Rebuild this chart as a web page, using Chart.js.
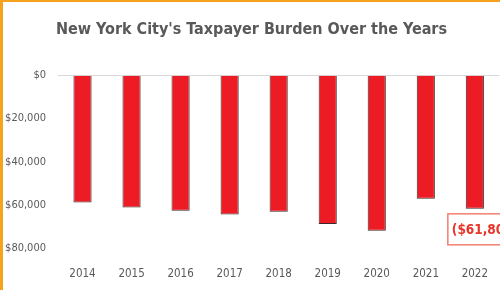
<!DOCTYPE html>
<html>
<head>
<meta charset="utf-8">
<script src="https://cdn.jsdelivr.net/npm/chart.js@4"></script>
<style>
  html, body { margin: 0; padding: 0; background: #fff; }
  #wrap {
    width: 497px;
    height: 288px;
    border-left: 3px solid #f5a21c;
    border-top: 2px solid #f5a21c;
  }
  canvas { display: block; }
</style>
</head>
<body>
<div id="wrap"><canvas id="burden" width="497" height="288"></canvas></div>
<script>
// data
const years = ['2014', '2015', '2016', '2017', '2018', '2019', '2020', '2021', '2022'];
const burden = [-58900, -61200, -62700, -64400, -63200, -68800, -71900, -57100, -61800];
const yTicks = [0, -20000, -40000, -60000, -80000];

const FONT = '"DejaVu Sans Condensed", "Liberation Sans Narrow", sans-serif';
const GREY = '#595959';

const fmtMoney = (v) => '$' + Math.abs(v).toLocaleString('en-US');

// callout for the last bar
const lastLabel = {
  id: 'lastLabel',
  afterDatasetsDraw(chart) {
    const meta = chart.getDatasetMeta(0);
    const i = burden.length - 1;
    const bar = meta.data[i];
    const ctx = chart.ctx;
    const text = '(' + fmtMoney(burden[i]) + ')';
    ctx.save();
    ctx.font = 'bold 13.5px ' + FONT;
    const w = ctx.measureText(text).width + 8;
    const h = 31;
    const x = bar.x - 27;
    const y = bar.y + 5;
    ctx.fillStyle = '#fff';
    ctx.fillRect(x, y, w, h);
    ctx.strokeStyle = '#f08070';
    ctx.lineWidth = 1.5;
    ctx.strokeRect(x, y, w, h);
    ctx.fillStyle = '#e8352a';
    ctx.textAlign = 'left';
    ctx.textBaseline = 'middle';
    ctx.fillText(text, x + 4, y + h / 2 + 1);
    ctx.restore();
  }
};

new Chart(document.getElementById('burden'), {
  type: 'bar',
  data: {
    labels: years,
    datasets: [{
      data: burden,
      backgroundColor: '#ed1c24',
      borderColor: '#3a2a2a',
      borderWidth: 1,
      barPercentage: 0.37,
      categoryPercentage: 1
    }]
  },
  options: {
    responsive: false,
    animation: false,
    layout: { padding: { left: 0, right: 0, top: 0, bottom: -3 } },
    plugins: {
      legend: { display: false },
      tooltip: { enabled: false },
      title: {
        display: true,
        text: "New York City's Taxpayer Burden Over the Years",
        color: GREY,
        font: { family: FONT, size: 16, weight: 'bold' },
        padding: { top: 18, bottom: 36 }
      }
    },
    scales: {
      x: {
        grid: { display: false, drawTicks: true, tickLength: 7 },
        border: { display: false },
        ticks: { color: GREY, font: { family: FONT, size: 11.5 }, padding: 12 }
      },
      y: {
        min: -80000,
        max: 0,
        afterBuildTicks: (axis) => { axis.ticks = yTicks.map((v) => ({ value: v })); },
        afterFit: (axis) => { axis.width = 55; },
        grid: {
          drawTicks: false,
          color: (c) => (c.tick && c.tick.value === 0 ? '#d9d9d9' : 'transparent')
        },
        border: { display: false },
        ticks: {
          color: GREY,
          font: { family: FONT, size: 11 },
          padding: 12,
          callback: (v) => fmtMoney(v)
        }
      }
    }
  },
  plugins: [lastLabel]
});
</script>
</body>
</html>
